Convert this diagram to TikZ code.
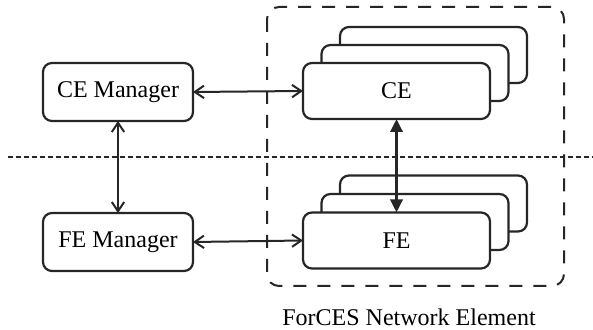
\documentclass[tikz,border=0pt]{standalone}
\usepackage{fontspec}
\setmainfont{Liberation Serif}
\usetikzlibrary{arrows.meta}
\begin{document}
\begin{tikzpicture}[x=0.5pt,y=-0.5pt,
  font=\fontsize{12pt}{14pt}\selectfont,
  barbtip/.tip={Straight Barb[length=4.6pt,width=6.2pt,line width=1pt]},
  heavytip/.tip={Triangle[length=6.5pt,width=6pt]},
  box/.style={draw=black!85,line width=1.1pt,rounded corners=4.5pt,fill=white,
    inner sep=0pt,outer sep=0pt},
  mgr/.style={box,minimum width=75pt,minimum height=29pt},
  elem/.style={box,minimum width=93.5pt,minimum height=28pt},
  link/.style={draw=black!85,line width=1pt,barbtip-barbtip},
  bus/.style={draw=black!85,line width=1.6pt,heavytip-heavytip},
  group/.style={draw=black!85,line width=1pt,dash pattern=on 6.5pt off 5.5pt,rounded corners=6pt},
  divider/.style={draw=black!85,line width=0.9pt,dash pattern=on 2.3pt off 1.7pt}]
\useasboundingbox (0,0) rectangle (593,330);

% network element boundary
\draw[group] (267,7) rectangle (564,286);
\node (label) at (409,317) {ForCES Network Element};

% CE / FE split
\coordinate (divL) at (8,157);
\coordinate (divR) at (593,157);
\draw[divider] (divL) -- (divR);

% managers
\node[mgr] (cem) at (118,92) {CE Manager};
\node[mgr] (fem) at (118,242) {FE Manager};

% stacked control elements
\node[elem] (ce3) at (433.5,55) {};
\node[elem] (ce2) at (415,73) {};
\node[elem] (ce)  at (396.5,91) {CE};

% stacked forwarding elements
\node[elem] (fe3) at (433.5,203.5) {};
\node[elem] (fe2) at (415,222) {};
\node[elem] (fe)  at (396.5,240.5) {FE};

% connections
\draw[link] (cem.east) -- (ce.west);
\draw[link] (fem.east) -- (fe.west);
\draw[link] (cem.south) -- (fem.north);
\draw[bus] (ce.south) -- (fe.north);
\end{tikzpicture}
\end{document}
